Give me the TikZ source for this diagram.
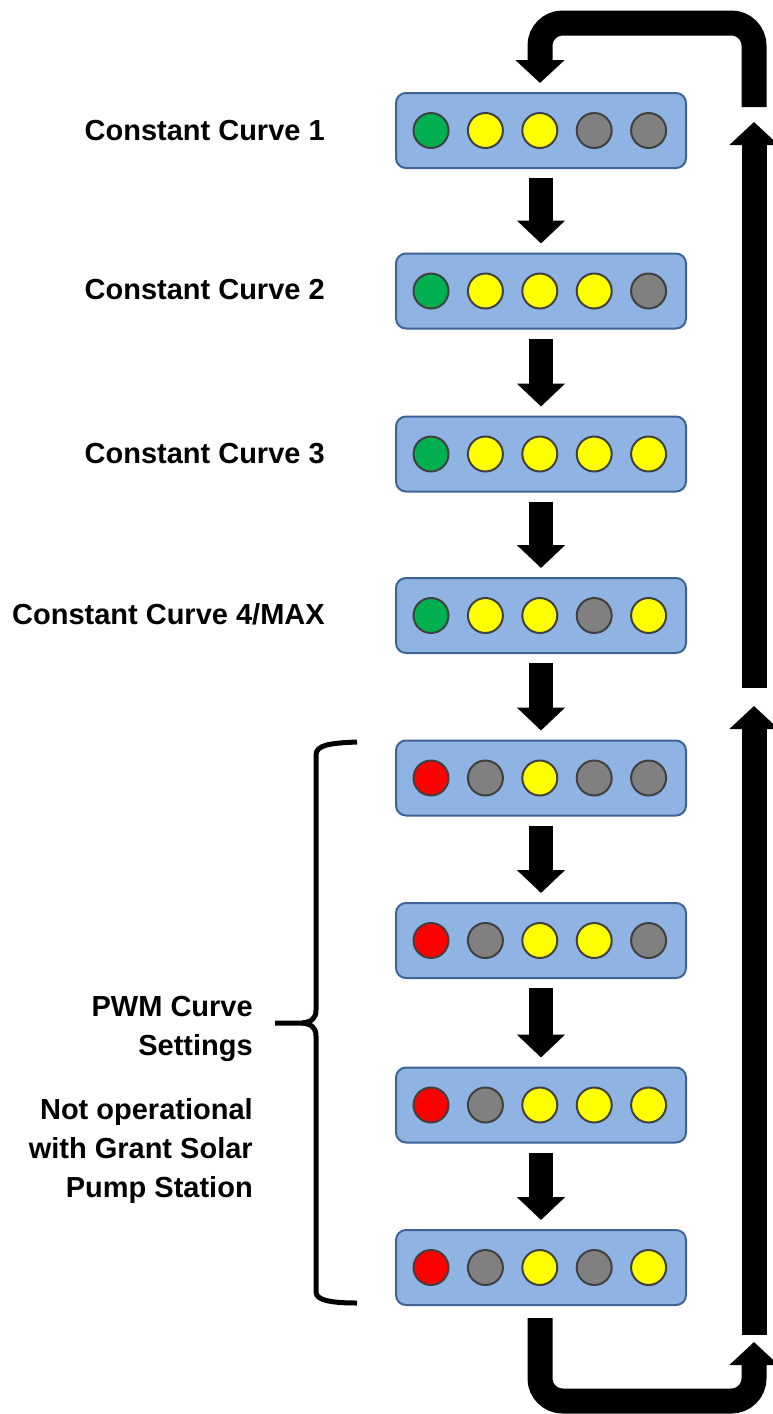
\documentclass[tikz,border=0pt]{standalone}
\usepackage{fontspec}
\setmainfont{Liberation Sans}
\usetikzlibrary{arrows.meta}
\definecolor{boxfill}{RGB}{143,180,227}
\definecolor{boxdraw}{RGB}{62,100,150}
\definecolor{ledline}{RGB}{64,64,64}
\definecolor{ledG}{RGB}{0,176,80}
\definecolor{ledY}{RGB}{255,255,0}
\definecolor{ledK}{RGB}{128,128,128}
\definecolor{ledR}{RGB}{255,0,0}
\tikzset{
  panel/.style={draw=boxdraw, line width=1.5pt, fill=boxfill, rounded corners=7.5pt,
    minimum width=217.5pt, minimum height=56.25pt, inner sep=0pt},
  led/.style={circle, draw=ledline, line width=1.5pt, minimum size=26.25pt, inner sep=0pt},
  downarrow/.style={line width=18pt, -{Triangle[length=17.25pt,width=35.25pt]}},
  loopline/.style={line width=18.75pt, rounded corners=17pt, -{Triangle[length=17.25pt,width=36pt]}},
  lbl/.style={anchor=base east, inner sep=0pt, font=\fontsize{21.75}{29.25}\selectfont\bfseries},
  brace/.style={line width=3.75pt}
}
\begin{document}
\begin{tikzpicture}[x=0.75pt,y=-0.75pt]
\useasboundingbox (0,0) rectangle (773,1414);

% panels and LEDs
\foreach \n/\y/\cols in {
  1/130.5/{ledG,ledY,ledY,ledK,ledK},
  2/291/{ledG,ledY,ledY,ledY,ledK},
  3/454/{ledG,ledY,ledY,ledY,ledY},
  4/615.5/{ledG,ledY,ledY,ledK,ledY},
  5/778/{ledR,ledK,ledY,ledK,ledK},
  6/940.5/{ledR,ledK,ledY,ledY,ledK},
  7/1105/{ledR,ledK,ledY,ledY,ledY},
  8/1267.5/{ledR,ledK,ledY,ledK,ledY}}{
  \node[panel] (b\n) at (541,\y) {};
  \foreach \c [count=\i] in \cols {
    \node[led, fill=\c] (c\n-\i) at ({431+54.4*(\i-1)},\y) {};
  }
}

% down arrows
\foreach \a [evaluate=\a as \b using int(\a+1)] in {1,...,7}
  \draw[downarrow] ([yshift=-6.75pt]b\a.south) -- ([yshift=6.75pt]b\b.north);

% right side arrows
\coordinate (r1s) at (754,688);
\coordinate (r1e) at (754,122);
\coordinate (r2s) at (754,1335);
\coordinate (r2e) at (754,706);
\draw[downarrow, line width=18.75pt, -{Triangle[length=17.25pt,width=36pt]}] (r1s) -- (r1e);
\draw[downarrow, line width=18.75pt, -{Triangle[length=17.25pt,width=36pt]}] (r2s) -- (r2e);

% top loop
\coordinate (tls) at (754,107);
\draw[loopline] (tls) -- (754,23) -- (540,23) -- ([xshift=-0.75pt,yshift=6.75pt]b1.north);

% bottom loop
\coordinate (ble) at (754,1342);
\draw[loopline] ([xshift=-0.75pt,yshift=-9pt]b8.south) -- (540,1401) -- (754,1401) -- (ble);

% labels
\node[lbl] (l1) at (325,140) {Constant Curve 1};
\node[lbl] (l2) at (325,299) {Constant Curve 2};
\node[lbl] (l3) at (325,463) {Constant Curve 3};
\node[lbl] (l4) at (325,624) {Constant Curve 4/MAX};
\node[lbl] (p1) at (253,1016) {PWM Curve};
\node[lbl] (p2) at (253,1055) {Settings};
\node[lbl] (n1) at (253,1119) {Not operational};
\node[lbl] (n2) at (253,1158) {with Grant Solar};
\node[lbl] (n3) at (253,1197) {Pump Station};

% brace
\draw[brace] (357,742) .. controls (330,743) and (316,745) .. (316,755) -- (316,1010)
  .. controls (316,1018) and (312,1022) .. (302,1023) -- (275,1023);
\draw[brace] (302,1023) .. controls (312,1024) and (316,1028) .. (316,1036) -- (316,1292)
  .. controls (316,1300) and (330,1303) .. (357,1303);
\end{tikzpicture}
\end{document}
